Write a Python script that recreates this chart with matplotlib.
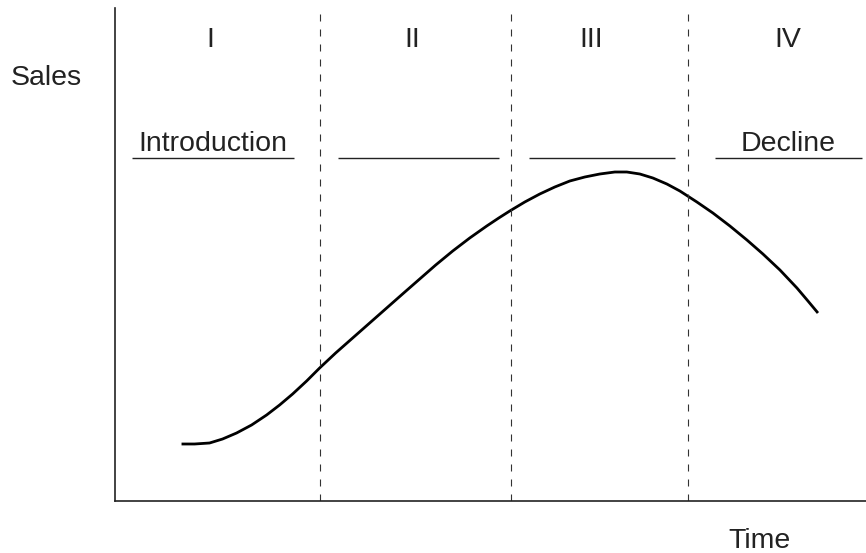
import numpy as np
import matplotlib.pyplot as plt

plt.rcParams['font.family'] = ['Liberation Sans', 'DejaVu Sans']

# ── Dados (curva de ciclo de vida) ────────────────────────────────────────────
time = np.array([67, 80, 95, 108, 122, 137, 152, 165, 178, 192, 205, 221,
                 238, 255, 272, 289, 305, 321, 338, 355, 372, 384, 395, 410,
                 425, 440, 455, 470, 485, 500, 512, 525, 538, 552, 565, 582,
                 598, 615, 632, 648, 665, 682, 693, 703])
sales = np.array([57, 57, 58, 62, 68, 76, 86, 96, 107, 120, 133, 148,
                  163, 178, 193, 208, 222, 236, 250, 263, 275, 283, 290, 299,
                  307, 314, 320, 324, 327, 329, 329, 327, 323, 317, 310, 299,
                  288, 275, 261, 247, 231, 213, 200, 188])

stage_bounds = [205, 396, 573]
numerals = ['I', 'II', 'III', 'IV']
numeral_x = [96, 298, 476, 673]
stage_names = ['Introduction', '', '', 'Decline']
line_start = [17, 223, 414, 600]
line_end = [179, 384, 560, 747]

# ── Figura ────────────────────────────────────────────────────────────────────
fig = plt.figure(figsize=(8.66, 5.53), dpi=100)
ax = fig.add_axes([114.5 / 866, 52 / 553, 751.5 / 866, 493 / 553])
ax.set_xlim(0, 751)
ax.set_ylim(0, 493)

for s in ['top', 'right']:
    ax.spines[s].set_visible(False)
for s in ['left', 'bottom']:
    ax.spines[s].set_linewidth(1.2)
    ax.spines[s].set_color('#222222')
ax.set_xticks([])
ax.set_yticks([])

# curva de vendas
ax.plot(time, sales, color='black', lw=2.0, solid_capstyle='butt',
        solid_joinstyle='round')

# divisões das fases
for xb in stage_bounds:
    ax.axvline(xb, color='#333333', lw=0.8, ls=(0, (6.3, 7.2)))

# numerais romanos
for xn, lbl in zip(numeral_x, numerals):
    ax.text(xn, 454, lbl, fontsize=20.5, ha='center', va='baseline',
            color='#222222')

# linhas de nome das fases
ax.hlines([343] * 4, line_start, line_end, color='#222222', lw=1.0)
for x0, x1, name in zip(line_start, line_end, stage_names):
    if name:
        ax.text((x0 + x1) / 2, 350, name, fontsize=20.5, ha='center',
                va='baseline', color='#222222')

# rótulos dos eixos
ax.text(-68, 423, 'Sales', fontsize=20.5, ha='center', va='center',
        color='#222222', clip_on=False)
ax.text(645, -47, 'Time', fontsize=20.5, ha='center', va='baseline',
        color='#222222', clip_on=False)

plt.savefig('out.png', dpi=100)
